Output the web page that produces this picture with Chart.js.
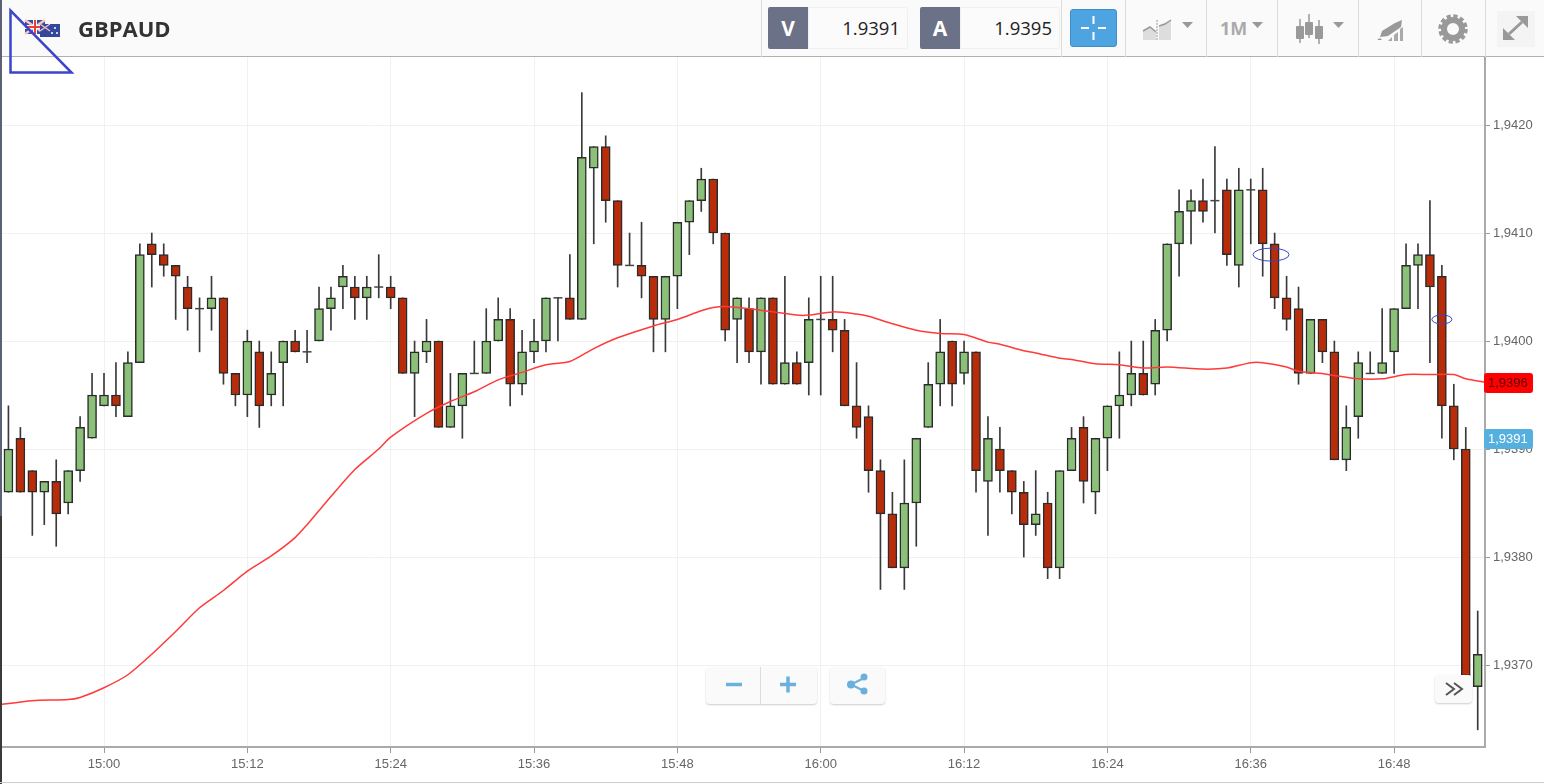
<!DOCTYPE html>
<html lang="en">
<head>
<meta charset="UTF-8">
<title>GBPAUD</title>
<script src="https://cdn.jsdelivr.net/npm/chart.js"></script>
<style>
  html, body { margin: 0; padding: 0; background: #fff; overflow: hidden; }
  body { width: 1544px; height: 784px; position: relative; font-family: "Open Sans", sans-serif; }
  #grafik { position: absolute; left: 0; top: 0; }
  .abs { position: absolute; box-sizing: border-box; }
  #bar { left: 0; top: 0; width: 1544px; height: 57px; background: #fafafa; border-bottom: 1px solid #b0b0b0; }
  #strip { left: 0; top: 0; width: 2px; height: 784px; background: #5b6275; }
  #strip2 { left: 0; top: 516px; width: 2px; height: 268px; background: #3a3a3a; }
  #foot { left: 0; top: 782px; width: 1544px; height: 1px; background: #ccc; }
  #name { left: 78px; top: 12px; font-size: 22px; font-weight: 700; color: #333; line-height: 32px; }
  .sep { top: 0; width: 1px; height: 57px; background: #ddd; }
  .tag { top: 7px; height: 42px; width: 40px; background: #6b7186; color: #fff; font-size: 21px; font-weight: 700;
         text-align: center; line-height: 42px; border-radius: 2px 0 0 2px; }
  .val { top: 7px; height: 42px; width: 100px; background: #fbfbfb; border: 1px solid #f0f0f0; color: #222; font-size: 18.500px;
         text-align: right; line-height: 40px; padding-right: 7px; border-radius: 0 3px 3px 0; }
  #cross { left: 1070px; top: 9px; width: 47px; height: 38px; background: #4ea4e0; border-radius: 3px; border: 1px solid #3f8ec8; }
  #oneM { left: 1220px; top: 15px; font-size: 18px; font-weight: 700; color: #aaa; line-height: 26px; }
  .btn { background: #fafafa; border-radius: 4px; box-shadow: 0 1px 2px rgba(0,0,0,.2); }
  svg { position: absolute; overflow: visible; }
</style>
</head>
<body>
<canvas id="grafik" width="1544" height="784"></canvas>

<div class="abs" id="bar"></div>
<div class="abs" id="strip"></div>
<div class="abs" id="strip2"></div>
<div class="abs" id="foot"></div>

<svg style="left:0;top:0" width="100" height="60">
  <!-- flamuri UK -->
  <rect x="25" y="20" width="20" height="14" fill="#3a4da0"/>
  <path d="M25 20L45 34M45 20L25 34" stroke="#f4c8c8" stroke-width="2.5"/>
  <path d="M35 20V34M25 27H45" stroke="#fff" stroke-width="4"/>
  <path d="M35 20V34M25 27H45" stroke="#e8403c" stroke-width="2"/>
  <!-- flamuri AU -->
  <rect x="40" y="24" width="20" height="13" fill="#33479c"/>
  <path d="M40 24L50 31M50 24L40 31" stroke="#f0b8c0" stroke-width="1.5"/>
  <circle cx="55" cy="28" r="1" fill="#fff"/><circle cx="52" cy="33" r="1" fill="#fff"/><circle cx="57" cy="33" r="1" fill="#fff"/>
</svg>
<div class="abs" id="name">GBPAUD</div>

<div class="abs sep" style="left:761px"></div>
<div class="abs tag" style="left:768px">V</div>
<div class="abs val" style="left:808px">1.9391</div>
<div class="abs tag" style="left:920px">A</div>
<div class="abs val" style="left:960px">1.9395</div>
<div class="abs sep" style="left:1061px"></div>
<div class="abs" id="cross"></div>
<svg style="left:1070px;top:9px" width="47" height="38">
  <path d="M23.5 7V15M23.5 23V31M11 19H19M28 19H36" stroke="#fff" stroke-width="2"/>
</svg>
<div class="abs sep" style="left:1125px"></div>
<div class="abs sep" style="left:1206px"></div>
<div class="abs sep" style="left:1277px"></div>
<div class="abs sep" style="left:1358px"></div>
<div class="abs sep" style="left:1421px"></div>
<div class="abs sep" style="left:1485px"></div>

<svg style="left:1120px;top:0" width="424" height="57" fill="#999">
  <!-- grafiku -->
  <path d="M23 40V31L30 27L36 31V40Z" fill="#ddd"/><path d="M39 40V26L51 20V40Z" fill="#ddd"/>
  <path d="M23 31L30 27L36 32M39 26L45 24L51 20" fill="none" stroke="#999" stroke-width="1.5"/>
  <path d="M37 20V41" stroke="#999" stroke-dasharray="2 1"/>
  <path d="M62 22H73L67.5 28Z"/>
  <path d="M132 22H143L137.5 28Z"/>
  <!-- qirinj -->
  <path d="M180 19V43M189 14V38M199 20V44" stroke="#999" stroke-width="1.5"/>
  <rect x="176" y="26" width="8" height="13" rx="1"/><rect x="185" y="22" width="8" height="13" rx="1"/><rect x="195" y="26" width="8" height="13" rx="1"/>
  <path d="M213 22H224L218.5 28Z"/>
  <!-- laps -->
  <path d="M262 31L275 23L282 20L281 27L268 36L260 37Z"/>
  <path d="M257 40L260 38L262 40Z"/>
  <path d="M268 41H272V37L268 41ZM274 41H278V32L274 35ZM280 41H283V27L280 29Z" fill="#aaa"/>
  <!-- rrota -->
  <circle cx="333" cy="29" r="9" fill="none" stroke="#999" stroke-width="6"/>
  <circle cx="333" cy="29" r="13" fill="none" stroke="#999" stroke-width="3.5" stroke-dasharray="4.2 2.6"/>
  <!-- zgjero -->
  <rect x="377" y="11" width="38" height="36" fill="#f4f4f4"/>
  <path d="M389 34L402 22" stroke="#999" stroke-width="3"/>
  <path d="M396 16H408V28ZM383 28V40H395Z"/>
</svg>
<div class="abs" id="oneM">1M</div>

<div class="abs btn" style="left:706px;top:667px;width:111px;height:37px"></div>
<div class="abs" style="left:760px;top:667px;width:1px;height:37px;background:#ddd"></div>
<div class="abs btn" style="left:830px;top:667px;width:55px;height:37px"></div>
<div class="abs btn" style="left:1435px;top:675px;width:37px;height:28px"></div>
<svg style="left:0;top:0" width="1544" height="784" fill="none">
  <path d="M726 684.500H742" stroke="#6bb0dc" stroke-width="3.500"/>
  <path d="M780 684.500H796M788 676.500V692.500" stroke="#6bb0dc" stroke-width="3.500"/>
  <path d="M864 678L851 684.500L864 691" stroke="#6bb0dc" stroke-width="2"/>
  <circle cx="851" cy="684.500" r="4" fill="#6bb0dc"/><circle cx="864" cy="677" r="3.500" fill="#6bb0dc"/><circle cx="864" cy="691" r="3.500" fill="#6bb0dc"/>
  <path d="M1446 683L1454 689L1446 695M1454 683L1462 689L1454 695" stroke="#555" stroke-width="2"/>
  <!-- trekendeshi blu -->
  <path d="M10.500 10.500V72.500H71.500Z" stroke="#3b45c9" stroke-width="2.500"/>
</svg>

<script>
// qirinjte, 1 minute secili, nga 14:52
const opens = [1.9386,1.9391,1.9388,1.9386,1.9387,1.9385,1.9388,1.9391,1.9394,1.9395,
  1.9393,1.9398,1.9409,1.9408,1.9407,1.9405,1.9403,1.9403,1.9404,1.9397,
  1.9395,1.9399,1.9395,1.9398,1.9400,1.9399,1.9400,1.9403,1.9405,1.9405,
  1.9404,1.9405,1.9405,1.9404,1.9397,1.9399,1.9400,1.9392,1.9394,1.9397,
  1.9397,1.9400,1.9402,1.9396,1.9399,1.9400,1.9404,1.9404,1.9402,1.9416,
  1.9418,1.9413,1.9407,1.9407,1.9406,1.9402,1.9406,1.9411,1.9413,1.9415,
  1.9410,1.9402,1.9403,1.9399,1.9404,1.9396,1.9398,1.9398,1.9402,1.9402,
  1.9401,1.9394,1.9393,1.9388,1.9384,1.9379,1.9385,1.9392,1.9396,1.9400,
  1.9397,1.9399,1.9387,1.9390,1.9388,1.9386,1.9383,1.9385,1.9379,1.9388,
  1.9392,1.9386,1.9391,1.9394,1.9395,1.9397,1.9396,1.9401,1.9409,1.9412,
  1.9413,1.9413,1.9414,1.9407,1.9414,1.9414,1.9409,1.9404,1.9403,1.9397,
  1.9402,1.9399,1.9389,1.9393,1.9397,1.9397,1.9399,1.9403,1.9407,1.9408,
  1.9406,1.9394,1.9390,1.9368];
const highs = [1.9394,1.9392,1.9388,1.9387,1.9389,1.9388,1.9393,1.9397,1.9397,1.9398,
  1.9399,1.9409,1.9410,1.9409,1.9407,1.9406,1.9404,1.9406,1.9404,1.9397,
  1.9401,1.9400,1.9399,1.9400,1.9401,1.9401,1.9405,1.9405,1.9407,1.9406,
  1.9406,1.9408,1.9406,1.9404,1.9400,1.9402,1.9400,1.9397,1.9397,1.9400,
  1.9403,1.9404,1.9403,1.9401,1.9402,1.9404,1.9404,1.9408,1.9423,1.9418,
  1.9419,1.9413,1.9410,1.9411,1.9406,1.9406,1.9411,1.9413,1.9416,1.9415,
  1.9410,1.9404,1.9404,1.9404,1.9404,1.9406,1.9399,1.9404,1.9406,1.9406,
  1.9402,1.9398,1.9394,1.9389,1.9386,1.9389,1.9391,1.9398,1.9402,1.9400,
  1.9400,1.9399,1.9393,1.9392,1.9388,1.9387,1.9388,1.9386,1.9388,1.9392,
  1.9393,1.9391,1.9394,1.9399,1.9400,1.9400,1.9402,1.9409,1.9414,1.9414,
  1.9415,1.9418,1.9415,1.9416,1.9415,1.9416,1.9410,1.9406,1.9405,1.9402,
  1.9402,1.9400,1.9394,1.9399,1.9399,1.9403,1.9403,1.9409,1.9409,1.9413,
  1.9407,1.9396,1.9392,1.9375];
const lows = [1.9386,1.9386,1.9382,1.9383,1.9381,1.9384,1.9387,1.9391,1.9394,1.9393,
  1.9393,1.9398,1.9405,1.9406,1.9402,1.9401,1.9399,1.9401,1.9396,1.9394,
  1.9393,1.9392,1.9394,1.9394,1.9399,1.9398,1.9400,1.9401,1.9403,1.9402,
  1.9402,1.9404,1.9403,1.9397,1.9393,1.9398,1.9392,1.9392,1.9391,1.9397,
  1.9397,1.9400,1.9394,1.9395,1.9398,1.9399,1.9400,1.9402,1.9402,1.9409,
  1.9411,1.9405,1.9407,1.9404,1.9399,1.9399,1.9403,1.9408,1.9412,1.9409,
  1.9400,1.9398,1.9398,1.9396,1.9396,1.9396,1.9396,1.9395,1.9395,1.9399,
  1.9394,1.9391,1.9386,1.9377,1.9379,1.9377,1.9381,1.9392,1.9394,1.9394,
  1.9396,1.9386,1.9382,1.9386,1.9384,1.9380,1.9382,1.9378,1.9378,1.9388,
  1.9385,1.9384,1.9388,1.9391,1.9394,1.9395,1.9395,1.9400,1.9406,1.9409,
  1.9411,1.9410,1.9407,1.9405,1.9409,1.9406,1.9403,1.9401,1.9396,1.9397,
  1.9398,1.9389,1.9388,1.9391,1.9397,1.9397,1.9397,1.9403,1.9403,1.9398,
  1.9391,1.9389,1.9369,1.9364];
const closes = [1.9390,1.9386,1.9386,1.9387,1.9384,1.9388,1.9392,1.9395,1.9395,1.9394,
  1.9398,1.9408,1.9408,1.9407,1.9406,1.9403,1.9403,1.9404,1.9397,1.9395,
  1.9400,1.9394,1.9397,1.9400,1.9399,1.9399,1.9403,1.9404,1.9406,1.9404,
  1.9405,1.9405,1.9404,1.9397,1.9399,1.9400,1.9392,1.9394,1.9397,1.9397,
  1.9400,1.9402,1.9396,1.9399,1.9400,1.9404,1.9404,1.9402,1.9417,1.9418,
  1.9413,1.9407,1.9407,1.9406,1.9402,1.9406,1.9411,1.9413,1.9415,1.9410,
  1.9401,1.9404,1.9399,1.9404,1.9396,1.9398,1.9396,1.9402,1.9402,1.9401,
  1.9394,1.9392,1.9388,1.9384,1.9379,1.9385,1.9391,1.9396,1.9399,1.9396,
  1.9399,1.9388,1.9391,1.9388,1.9386,1.9383,1.9384,1.9379,1.9388,1.9391,
  1.9387,1.9391,1.9394,1.9395,1.9397,1.9395,1.9401,1.9409,1.9412,1.9413,
  1.9412,1.9413,1.9408,1.9414,1.9414,1.9409,1.9404,1.9402,1.9397,1.9402,
  1.9399,1.9389,1.9392,1.9398,1.9397,1.9398,1.9403,1.9407,1.9408,1.9405,
  1.9394,1.9390,1.9369,1.9371];

// mesatarja levizese (minuta e dites, vlera)
const maMinutes = [891,894,897,898,900,902,904,906,908,910,912,914,916,917,919,921,923,924,927,929,
  931,933,935,937,939,941,943,946,948,950,951,952,954,956,958,959,961,963,964,966,968,970,972,974,
  975,977,978,980,981,983,985,987,989,992,994,996,997,999,1000,1002,1003,1005,1007,1009,1011,1013,
  1014,1015,1016];
const maValues = [1.93663,1.93667,1.93668,1.93670,1.93679,1.93691,1.93710,1.93731,1.93753,1.93769,
  1.93787,1.93801,1.93818,1.93830,1.93856,1.93881,1.93900,1.93911,1.93933,1.93944,
  1.93953,1.93964,1.93971,1.93978,1.93981,1.93993,1.94003,1.94014,1.94020,1.94028,1.94031,1.94032,
  1.94030,1.94027,1.94024,1.94024,1.94027,1.94025,1.94023,1.94016,1.94010,1.94007,1.94006,1.93999,
  1.93997,1.93991,1.93989,1.93984,1.93983,1.93979,1.93978,1.93975,1.93976,1.93974,1.93975,1.93980,
  1.93980,1.93976,1.93972,1.93970,1.93968,1.93965,1.93965,1.93969,1.93969,1.93969,1.93965,1.93963,1.93961];

const firstMinute = 892;
const priceTags = [{ value: 1.93961, text: '1,9396', bg: '#ff0000', fg: '#5a0000' },
                   { value: 1.93909, text: '1,9391', bg: '#55b0e0', fg: '#ffffff' }];
const marks = [{ minute: 997.7, value: 1.94080, rx: 18, ry: 6.500 },
               { minute: 1012, value: 1.94020, rx: 10, ry: 4.500 }];

const minutes = opens.map((_, i) => firstMinute + i);
const GREEN = '#8bc078', RED = '#b92c0a', EDGE = '#2b2b2b';

const wicks = minutes.map((m, i) => ({ x: m, y: [lows[i], highs[i]] }));
const bodies = minutes.map((m, i) => ({ x: m, y: [opens[i], closes[i]] }));
const dojis = minutes.map((m, i) => ({ x: m, y: opens[i] })).filter((p, i) => opens[i] === closes[i]);

function koha(v) {
  const h = Math.floor(v / 60), m = v % 60;
  return String(h).padStart(2, '0') + ':' + String(m).padStart(2, '0');
}

const shenjat = {
  id: 'shenjat',
  afterDraw(chart) {
    const ctx = chart.ctx, x = chart.scales.x, y = chart.scales.y;
    ctx.save();
    marks.forEach(m => {
      ctx.beginPath();
      ctx.ellipse(x.getPixelForValue(m.minute), y.getPixelForValue(m.value), m.rx, m.ry, 0, 0, Math.PI * 2);
      ctx.strokeStyle = '#3b45c9';
      ctx.lineWidth = 1;
      ctx.stroke();
    });
    ctx.font = '13px "Liberation Sans"';
    ctx.textBaseline = 'middle';
    ctx.textAlign = 'left';
    priceTags.forEach(t => {
      const py = y.getPixelForValue(t.value);
      ctx.beginPath();
      ctx.roundRect(1484, Math.round(py) - 10, 49, 20, 3);
      ctx.fillStyle = t.bg;
      ctx.fill();
      ctx.fillStyle = t.fg;
      ctx.fillText(t.text, 1488, py + 0.5);
    });
    ctx.restore();
  }
};

new Chart(document.getElementById('grafik'), {
  type: 'bar',
  data: {
    datasets: [
      { type: 'line', data: maMinutes.map((m, i) => ({ x: m, y: maValues[i] })), borderColor: '#ff3a3a',
        borderWidth: 1.500, pointRadius: 0, tension: 0.25, order: 1 },
      { type: 'scatter', data: dojis, pointStyle: 'line', pointRadius: 4.500, borderColor: '#444',
        pointBorderColor: '#444', pointBorderWidth: 1.500, order: 2 },
      { data: bodies, barThickness: 9, grouped: false, borderSkipped: false, borderWidth: 1.500, borderColor: EDGE,
        backgroundColor: bodies.map((b, i) => closes[i] >= opens[i] ? GREEN : RED), order: 3 },
      { data: wicks, barThickness: 1, grouped: false, borderWidth: 0, backgroundColor: '#3a3a3a', order: 4 }
    ]
  },
  plugins: [shenjat],
  options: {
    responsive: false,
    animation: false,
    devicePixelRatio: 1,
    layout: { autoPadding: false, padding: { top: 57, left: 2, right: 0, bottom: 0 } },
    plugins: { legend: { display: false }, tooltip: { enabled: false } },
    scales: {
      x: {
        type: 'linear',
        offset: false,
        min: 891.461,
        max: 1015.61,
        afterFit(s) { s.height = 37; s.paddingLeft = 0; s.paddingRight = 0; },
        border: { color: '#aaa', width: 2 },
        grid: { offset: false, color: '#f1f1f1', tickColor: '#999', tickLength: 6, lineWidth: 1 },
        ticks: { stepSize: 12, includeBounds: false, maxRotation: 0, autoSkip: false, color: '#666', padding: 4,
                 font: { family: '"Liberation Sans"', size: 13 }, callback: v => koha(v) }
      },
      y: {
        position: 'right',
        min: 1.936241,
        max: 1.94263,
        afterFit(s) { s.width = 59; },
        border: { color: '#aaa', width: 2 },
        grid: { color: '#f1f1f1', tickColor: '#999', tickLength: 5, lineWidth: 1 },
        ticks: { stepSize: 0.001, includeBounds: false, color: '#666', padding: 3,
                 font: { family: '"Liberation Sans"', size: 13 }, callback: v => v.toFixed(4).replace('.', ',') }
      }
    }
  }
});
</script>
</body>
</html>
